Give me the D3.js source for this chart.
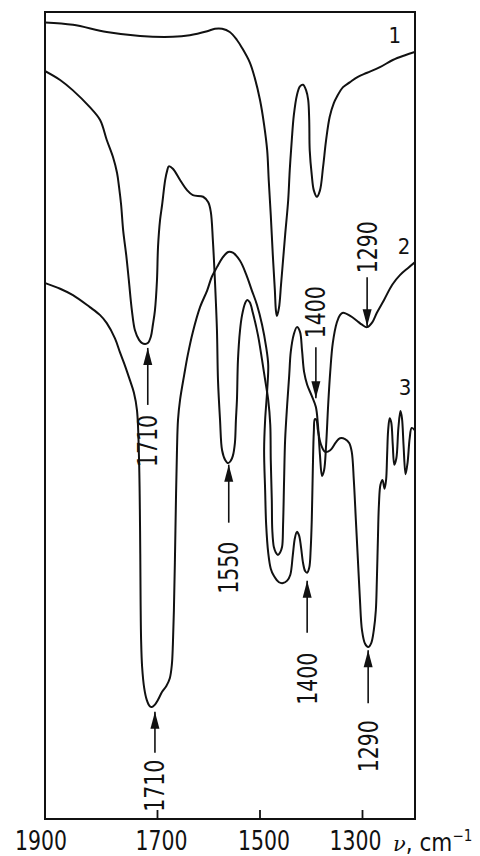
<!DOCTYPE html>
<html>
<head>
<meta charset="utf-8">
<script src="https://cdnjs.cloudflare.com/ajax/libs/d3/7.8.5/d3.min.js"></script>
<style>
  body { margin: 0; background: #fff; }
  svg { display: block; }
</style>
</head>
<body>
<svg></svg>
<script>
// IR spectra, wavenumber (cm-1) vs relative transmission (%)

const curve1Nu = [1918,1864,1798,1733,1669,1636,1602,1587,1573,1558,1544,1534,1519,1509,1499,1491,1485,1482,1478,1474,1470,1468,1466,1462,1458,1454,1450,1444,1441,1437,1433,1427,1421,1415,1409,1405,1403,1402,1398,1394,1388,1382,1376,1370,1363,1355,1349,1337,1324,1308,1290,1265,1240,1216,1197];
const curve1T = [99.6,99.3,98.4,97.9,97.8,98.0,98.5,98.8,98.8,98.4,97.4,96.4,94.6,92.6,89.9,86.8,83.6,79.9,75.5,70.5,66.1,63.6,62.9,63.9,66.8,69.9,73.0,77.4,81.1,84.9,88.0,90.5,91.6,91.8,91.1,89.9,87.4,83.6,80.5,78.6,77.8,78.6,81.5,84.9,87.8,89.5,90.3,91.5,92.1,92.8,93.3,94.0,94.9,95.5,95.9];

const curve2Nu = [1918,1889,1864,1831,1811,1798,1786,1778,1774,1770,1766,1760,1755,1749,1743,1735,1729,1723,1718,1712,1708,1704,1700,1698,1694,1690,1684,1680,1677,1669,1655,1641,1630,1610,1600,1595,1591,1587,1583,1581,1577,1573,1567,1561,1556,1552,1548,1546,1544,1542,1538,1534,1528,1524,1519,1513,1503,1495,1489,1483,1479,1478,1476,1475,1472,1468,1464,1460,1456,1454,1452,1450,1446,1442,1439,1433,1427,1421,1417,1413,1407,1398,1390,1386,1382,1378,1374,1370,1366,1362,1357,1349,1343,1337,1323,1310,1300,1290,1280,1271,1257,1241,1226,1210,1197];
const curve2T = [93.5,92.4,91.1,89.0,87.4,84.9,82.8,80.8,79.0,76.8,73.6,70.5,67.4,63.6,61.1,59.9,59.5,59.4,59.5,60.3,61.8,63.6,67.4,71.5,74.9,76.8,79.9,81.1,81.6,81.3,79.9,78.6,78.0,77.8,77.1,75.9,72.4,67.4,61.1,54.9,49.9,46.1,44.9,44.5,44.8,45.4,47.0,49.9,52.4,57.4,61.1,63.0,64.5,64.9,64.6,63.3,60.5,57.4,54.9,52.4,49.3,44.9,39.9,36.1,34.0,33.3,33.0,33.3,34.0,36.8,42.4,47.4,51.8,55.5,58.4,60.6,61.5,60.9,58.6,55.9,54.3,52.9,51.5,49.3,45.5,42.9,43.6,46.8,51.8,55.9,59.5,62.1,63.0,63.3,62.9,62.3,61.8,61.5,62.1,63.3,64.9,66.8,68.0,68.9,69.6];

const curve3Nu = [1918,1889,1864,1831,1811,1798,1782,1772,1762,1753,1745,1739,1735,1733,1732,1731,1729,1725,1720,1714,1710,1704,1698,1690,1682,1675,1671,1669,1667,1665,1663,1661,1659,1655,1647,1640,1630,1616,1602,1593,1583,1573,1561,1552,1538,1526,1515,1505,1495,1487,1483,1485,1489,1491,1489,1487,1483,1478,1472,1462,1454,1446,1440,1435,1431,1427,1423,1419,1415,1411,1407,1403,1400,1398,1396,1394,1392,1389,1386,1380,1372,1362,1351,1343,1333,1325,1320,1316,1312,1308,1304,1300,1294,1288,1282,1277,1273,1271,1269,1267,1264,1260,1256,1253,1251,1249,1246,1243,1240,1237,1233,1229,1225,1222,1219,1215,1211,1207,1203,1197];
const curve3T = [67.0,66.3,65.5,64.0,63.0,62.0,60.1,58.3,56.6,54.9,53.3,51.1,44.9,36.1,27.4,22.4,19.0,16.4,14.9,14.1,14.0,14.3,14.9,15.9,16.6,17.6,19.3,21.8,26.1,32.4,39.9,46.1,49.9,52.4,55.5,58.0,60.9,64.0,66.1,67.8,69.0,70.1,70.9,70.8,69.8,68.1,66.1,64.3,61.8,59.0,56.8,53.6,49.9,46.1,41.1,36.8,33.3,31.3,30.4,29.6,29.5,29.8,30.5,33.0,35.1,35.9,35.5,34.0,32.0,31.0,30.8,31.4,33.9,37.4,43.6,48.4,50.0,49.9,48.6,46.8,45.9,46.1,47.1,47.6,47.5,47.0,45.9,42.4,37.4,32.4,27.4,23.6,21.9,21.5,22.0,23.6,26.1,29.9,34.9,39.3,41.8,42.4,41.3,42.4,45.5,48.6,50.1,49.6,46.8,44.3,45.1,48.9,51.0,50.1,46.8,43.1,44.6,47.6,48.9,48.6];

const curveLabels = ["1", "2", "3"];
const curveLabelNu = [1236, 1218, 1216];
const curveLabelT = [98.0, 71.6, 54.0];

const xTickValues = [1900, 1700, 1500, 1300];

// band assignments marked with arrows
const bandLabels = ["1710", "1550", "1400", "1290", "1710", "1400", "1290"];
const bandNu = [1718, 1560, 1390, 1290, 1704, 1407, 1288];
const bandT = [58.9, 44.3, 52.6, 61.6, 13.4, 29.8, 21.1];
const bandTextSide = ["below", "below", "above", "above", "below", "below", "below"];

// arrow lengths and text gaps (px)
const arrowLen = [57, 58, 51, 49, 41, 52, 53];
const arrowGap = [10, 19, 9, 4, 7, 20, 17];

const numFont = "'DejaVu Sans Condensed', 'DejaVu Sans', sans-serif";

var svgWidth = 480, svgHeight = 856;
var margin = { top: 12, right: 65, bottom: 37, left: 45 };
var width = svgWidth - margin.left - margin.right;
var height = svgHeight - margin.top - margin.bottom;

var svg = d3.select("svg")
    .attr("width", svgWidth)
    .attr("height", svgHeight);

var g = svg.append("g")
    .attr("transform", "translate(" + margin.left + "," + margin.top + ")");

var x = d3.scaleLinear()
    .domain([1918.5, 1196.6])
    .range([0, width]);

var y = d3.scaleLinear()
    .domain([0, 100.9])
    .range([height, 0]);

g.append("clipPath")
    .attr("id", "plot-clip")
    .append("rect")
    .attr("width", width)
    .attr("height", height);

var line = d3.line()
    .x(function (d) { return x(d[0]); })
    .y(function (d) { return y(d[1]); })
    .curve(d3.curveCatmullRom.alpha(0.5));

var curves = [
    d3.zip(curve1Nu, curve1T),
    d3.zip(curve2Nu, curve2T),
    d3.zip(curve3Nu, curve3T)
];

g.append("g")
    .attr("clip-path", "url(#plot-clip)")
    .selectAll("path")
    .data(curves)
    .join("path")
    .attr("fill", "none")
    .attr("stroke", "#111")
    .attr("stroke-width", 2)
    .attr("stroke-linejoin", "round")
    .attr("d", line);

// frame
g.append("rect")
    .attr("width", width)
    .attr("height", height)
    .attr("fill", "none")
    .attr("stroke", "#111")
    .attr("stroke-width", 2);

// bottom axis: inward ticks, big labels
var xAxis = g.append("g")
    .attr("transform", "translate(0," + height + ")")
    .call(d3.axisBottom(x)
        .tickValues(xTickValues)
        .tickSizeInner(-9)
        .tickSizeOuter(0)
        .tickPadding(12)
        .tickFormat(d3.format("d")));

xAxis.select(".domain").remove();
xAxis.selectAll(".tick line")
    .attr("stroke", "#111")
    .attr("stroke-width", 1.8)
    .filter(function (d) { return d === 1900; })
    .remove();
xAxis.selectAll(".tick text")
    .attr("fill", "#111")
    .style("font-family", numFont)
    .style("font-size", "27px")
    .attr("textLength", 52)
    .attr("lengthAdjust", "spacingAndGlyphs")
    .attr("dx", function (d) { return d === 1900 ? -14 : (d === 1300 ? -7 : 4); });

// axis unit
var unit = g.append("text")
    .attr("x", x(1300) + 31)
    .attr("y", height + 32)
    .attr("fill", "#111")
    .style("font-family", numFont)
    .style("font-size", "24px");
unit.append("tspan")
    .style("font-family", "'DejaVu Serif', serif")
    .style("font-style", "italic")
    .style("font-size", "21px")
    .text("ν");
unit.append("tspan").text(", cm");
unit.append("tspan")
    .attr("dy", -10)
    .style("font-size", "15px")
    .text("−1");

// curve numbers
g.selectAll(".curve-label")
    .data(curveLabels)
    .join("text")
    .attr("class", "curve-label")
    .attr("x", function (d, i) { return x(curveLabelNu[i]); })
    .attr("y", function (d, i) { return y(curveLabelT[i]); })
    .attr("dy", "0.36em")
    .attr("text-anchor", "middle")
    .attr("fill", "#111")
    .style("font-family", numFont)
    .style("font-size", "22px")
    .text(function (d) { return d; });

// band arrows
var bands = g.selectAll(".band")
    .data(bandLabels)
    .join("g")
    .attr("class", "band")
    .attr("transform", function (d, i) {
        return "translate(" + x(bandNu[i]) + "," + y(bandT[i]) + ")";
    });

bands.append("line")
    .attr("x1", 0).attr("x2", 0)
    .attr("y1", 0)
    .attr("y2", function (d, i) { return bandTextSide[i] === "below" ? arrowLen[i] : -arrowLen[i]; })
    .attr("stroke", "#111")
    .attr("stroke-width", 1.6);

bands.append("path")
    .attr("fill", "#111")
    .attr("d", function (d, i) {
        var s = bandTextSide[i] === "below" ? 1 : -1;
        return "M0,0L-4.5," + (17 * s) + "L4.5," + (17 * s) + "Z";
    });

bands.append("text")
    .attr("transform", function (d, i) {
        var s = bandTextSide[i] === "below" ? 1 : -1;
        return "translate(0," + s * (arrowLen[i] + arrowGap[i]) + ") rotate(-90)";
    })
    .attr("text-anchor", function (d, i) { return bandTextSide[i] === "below" ? "end" : "start"; })
    .attr("dy", "0.36em")
    .attr("fill", "#111")
    .attr("textLength", 52)
    .attr("lengthAdjust", "spacingAndGlyphs")
    .style("font-family", numFont)
    .style("font-size", "26px")
    .text(function (d) { return d; });
</script>
</body>
</html>
